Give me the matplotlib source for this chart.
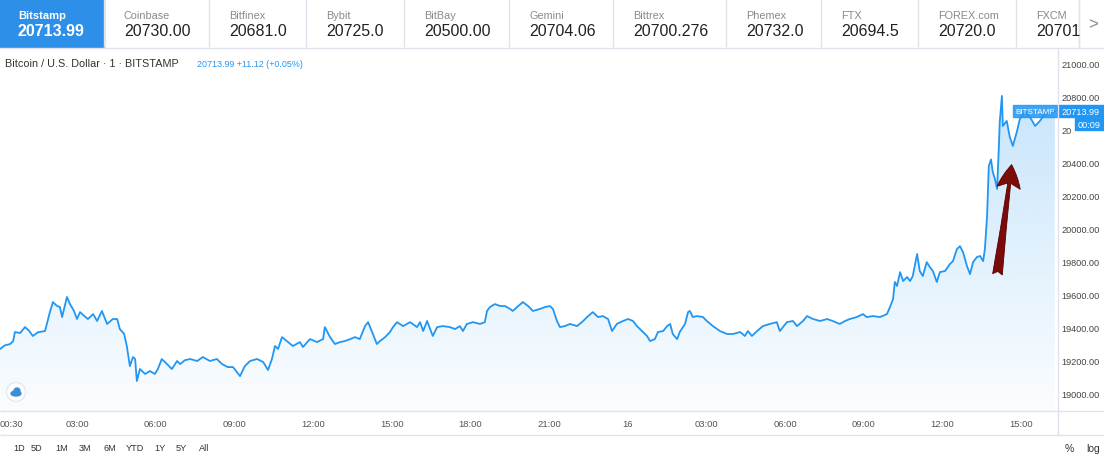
import matplotlib.pyplot as plt
import numpy as np
from matplotlib.colors import to_rgb
from matplotlib.patches import PathPatch, Rectangle, Circle, Ellipse

plt.rcParams['font.family'] = ['Liberation Sans', 'DejaVu Sans']

# header tabs
exchanges = ['Bitstamp', 'Coinbase', 'Bitfinex', 'Bybit', 'BitBay', 'Gemini',
             'Bittrex', 'Phemex', 'FTX', 'FOREX.com', 'FXCM']
quotes = ['20713.99', '20730.00', '20681.0', '20725.0', '20500.00', '20704.06',
          '20700.276', '20732.0', '20694.5', '20720.0', '20701']

# minutes since 00:00 on the 15th, BTC/USD price
minutes = [4, 15, 27, 34, 38, 50, 61, 70, 79, 91, 107, 118, 125, 134, 141, 146, 153, 157,
           164, 173, 180, 187, 196, 205, 217, 226, 237, 249, 262, 272, 278, 288, 294, 301,
           308, 313, 317, 324, 336, 347, 358, 365, 374, 386, 397, 409, 416, 427, 439, 455,
           468, 484, 500, 512, 525, 537, 553, 564, 576, 592, 606, 617, 626, 633, 640, 649,
           660, 674, 690, 697, 713, 729, 743, 747, 759, 770, 782, 793, 805, 816, 827, 839,
           846, 857, 866, 873, 885, 896, 903, 912, 926, 942, 958, 965, 972, 981, 988, 994,
           1004, 1017, 1033, 1045, 1056, 1063, 1072, 1086, 1102, 1113, 1118, 1125, 1136,
           1148, 1159, 1171, 1177, 1187, 1200, 1212, 1223, 1239, 1251, 1262, 1269, 1278,
           1285, 1296, 1308, 1324, 1338, 1347, 1360, 1372, 1383, 1395, 1404, 1415, 1429,
           1441, 1452, 1461, 1475, 1484, 1491, 1502, 1509, 1521, 1530, 1537, 1543, 1553,
           1559, 1571, 1578, 1582, 1589, 1598, 1612, 1621, 1635, 1651, 1667, 1681, 1697,
           1708, 1715, 1724, 1736, 1749, 1765, 1781, 1788, 1795, 1804, 1818, 1827, 1841,
           1850, 1864, 1880, 1896, 1909, 1925, 1937, 1948, 1964, 1978, 1987, 2001, 2017,
           2033, 2040, 2047, 2051, 2056, 2063, 2070, 2079, 2086, 2092, 2102, 2108, 2115,
           2124, 2131, 2138, 2147, 2154, 2166, 2177, 2184, 2193, 2200, 2207, 2216, 2223,
           2230, 2239, 2246, 2253, 2257, 2262, 2266, 2271, 2275, 2280, 2285, 2289, 2291,
           2296, 2298, 2307, 2314, 2321, 2330, 2337, 2349, 2360, 2372, 2383, 2394, 2406,
           2417]
price = [19268, 19290, 19298, 19316, 19371, 19365, 19401, 19380, 19347, 19370, 19377, 19492,
         19553, 19530, 19523, 19462, 19540, 19584, 19541, 19500, 19450, 19492, 19470, 19450,
         19480, 19438, 19499, 19420, 19450, 19450, 19389, 19359, 19286, 19164, 19219, 19207,
         19073, 19146, 19116, 19134, 19116, 19146, 19207, 19176, 19146, 19195, 19176, 19200,
         19207, 19195, 19219, 19195, 19207, 19176, 19158, 19158, 19103, 19164, 19195, 19207,
         19189, 19140, 19207, 19286, 19268, 19340, 19316, 19286, 19310, 19280, 19328, 19310,
         19328, 19401, 19340, 19298, 19310, 19316, 19328, 19340, 19328, 19407, 19431, 19359,
         19298, 19316, 19340, 19371, 19401, 19431, 19407, 19431, 19401, 19431, 19377, 19438,
         19389, 19347, 19401, 19407, 19401, 19389, 19407, 19377, 19420, 19431, 19420, 19431,
         19499, 19523, 19541, 19529, 19529, 19511, 19499, 19523, 19553, 19529, 19499, 19511,
         19523, 19529, 19511, 19438, 19401, 19407, 19420, 19407, 19438, 19462, 19492, 19462,
         19468, 19450, 19377, 19420, 19438, 19450, 19438, 19407, 19371, 19347, 19316, 19328,
         19371, 19377, 19407, 19420, 19359, 19328, 19371, 19420, 19492, 19499, 19462, 19468,
         19462, 19438, 19407, 19377, 19359, 19359, 19371, 19347, 19377, 19347, 19377, 19407,
         19420, 19431, 19377, 19401, 19431, 19438, 19407, 19438, 19468, 19450, 19438, 19450,
         19438, 19420, 19438, 19450, 19462, 19480, 19462, 19468, 19462, 19480, 19523, 19572,
         19675, 19651, 19735, 19681, 19705, 19681, 19711, 19845, 19742, 19711, 19796, 19766,
         19742, 19675, 19735, 19742, 19784, 19802, 19875, 19893, 19857, 19772, 19723, 19796,
         19827, 19833, 19802, 19875, 20076, 20380, 20420, 20344, 20301, 20240, 20500, 20648,
         20806, 20623, 20654, 20556, 20502, 20587, 20666, 20708, 20678, 20623, 20654, 20696,
         20708, 20714]
last_price = 20713.99

xtick_min = [30, 180, 360, 540, 720, 900, 1080, 1260, 1440, 1620, 1800, 1980, 2160, 2340]
xtick_lbl = ['00:30', '03:00', '06:00', '09:00', '12:00', '15:00', '18:00', '21:00', '16',
             '03:00', '06:00', '09:00', '12:00', '15:00']
yticks = list(range(19000, 21001, 200))
ranges = ['1D', '5D', '1M', '3M', '6M', 'YTD', '1Y', '5Y', 'All']

W, H = 1104, 456
blue = '#2196f3'
grid_c = '#e0e3eb'

fig = plt.figure(figsize=(W / 100, H / 100), dpi=100)
fig.patch.set_facecolor('white')

# main price pane (pixel box 0..1057 x 52..412)
ax = fig.add_axes([0, 1 - 412 / H, 1057 / W, (412 - 52) / H])
ax.set_facecolor('white')
x0, x1 = 3.9, 2422
y0, y1 = 18891, 21079

ax.plot(minutes, price, color=blue, lw=1.3, zorder=3)

# gradient area under the line
area = ax.fill_between(minutes, price, y0, color='none', lw=0)
clip = PathPatch(area.get_paths()[0], transform=ax.transData, fc='none', ec='none')
ax.add_patch(clip)
rgba = np.zeros((256, 1, 4))
rgba[..., :3] = to_rgb(blue)
rgba[..., 3] = np.linspace(0.28, 0.02, 256)[:, None]
img = ax.imshow(rgba, extent=[x0, x1, y0, y1], aspect='auto', origin='upper', zorder=1)
img.set_clip_path(clip)

# arrow pointing at the breakout
ax.annotate('', xy=(2319, 20405), xytext=(2285, 19705),
            arrowprops=dict(arrowstyle='fancy,head_length=1.2,head_width=1.2,tail_width=0.5',
                            mutation_scale=14, fc='#7b0a0a', ec='#5a0000', lw=0.6),
            zorder=4)

ax.set_xlim(x0, x1)
ax.set_ylim(y0, y1)
for s in ax.spines.values():
    s.set_visible(False)
ax.set_xticks(xtick_min, xtick_lbl)
ax.tick_params(axis='x', length=0, pad=6, labelsize=6.8, labelcolor='#555555')
ax.yaxis.tick_right()
# the 20600 label is mostly hidden behind the clock box; only "20" shows
ylbl = ['20' if v == 20600 else f'{v:.2f}' for v in yticks]
ax.set_yticks(yticks, ylbl)
ax.tick_params(axis='y', length=0, pad=3, labelsize=6.6, labelcolor='#444444')
for t in ax.get_yticklabels():
    t.set_horizontalalignment('left')

# overlay in pixel coordinates for the UI chrome
ui = fig.add_axes([0, 0, 1, 1], zorder=5)
ui.set_xlim(0, W)
ui.set_ylim(H, 0)
ui.axis('off')

seps = [104, 209, 306, 404, 509, 613, 726, 821, 918, 1016, 1079]
ui.add_patch(Rectangle((0, 0), 104, 48, color='#2e8fe8'))
ui.vlines(seps, 0, 48, color=grid_c, lw=1)
ui.hlines(49, 0, W, color=grid_c, lw=1)
for i, (name, q) in enumerate(zip(exchanges, quotes)):
    tx = 18 if i == 0 else seps[i - 1] + 20
    if i == 0:
        ui.text(tx, 16, name, fontsize=8, color='white', weight='bold', va='center')
        ui.text(tx, 32, q, fontsize=11.5, color='white', weight='bold', va='center')
    else:
        ui.text(tx, 16, name, fontsize=7.8, color='#8a8a8a', va='center')
        ui.text(tx, 32, q, fontsize=11.5, color='#222222', va='center')
ui.add_patch(Rectangle((1079.5, 0), 25, 48, color='white'))
ui.vlines(1079, 0, 48, color=grid_c, lw=1)
ui.text(1093, 25, '>', fontsize=12, color='#888888', ha='center', va='center')

ui.text(5, 64, 'Bitcoin / U.S. Dollar · 1 · BITSTAMP', fontsize=7.8, color='#333333',
        va='center')
ui.text(197, 64.5, '20713.99 +11.12 (+0.05%)', fontsize=6.4, color=blue, va='center')

ui.hlines(412, 0, W, color=grid_c, lw=1)
ui.hlines(436, 0, W, color=grid_c, lw=1)
ui.vlines(1057.5, 50, 436, color=grid_c, lw=1)

# last price labels
yp = H - ax.transData.transform((x0, last_price))[1]
ui.add_patch(Rectangle((1013, yp - 6), 44, 12, color=blue, alpha=0.85))
ui.text(1035, yp, 'BITSTAMP', fontsize=5.8, color='white', ha='center', va='center')
ui.add_patch(Rectangle((1058, yp - 6), 46, 12, color=blue))
ui.text(1061, yp, f'{last_price:.2f}', fontsize=6.6, color='white', va='center')
ui.add_patch(Rectangle((1075, yp + 7), 29, 12, color=blue))
ui.text(1078, yp + 13, '00:09', fontsize=6.6, color='white', va='center')

# logo bubble
ui.add_patch(Circle((16, 393), 9.5, fc='white', ec='#e6e9ef', lw=1))
ui.add_patch(Ellipse((16, 394.5), 10, 5, color='#3a8fd8'))
ui.add_patch(Circle((17, 392), 3, color='#3a8fd8'))

# range buttons
rx = [13, 31, 55, 79, 103, 126, 154, 176, 199]
for x, r in zip(rx, ranges):
    ui.text(x, 449, r, fontsize=6.6, color='#333333', va='center')
ui.text(1065, 449, '%', fontsize=7.5, color='#333333', va='center')
ui.text(1086, 449, 'log', fontsize=7.5, color='#333333', va='center')

fig.savefig('out.png', dpi=100)
